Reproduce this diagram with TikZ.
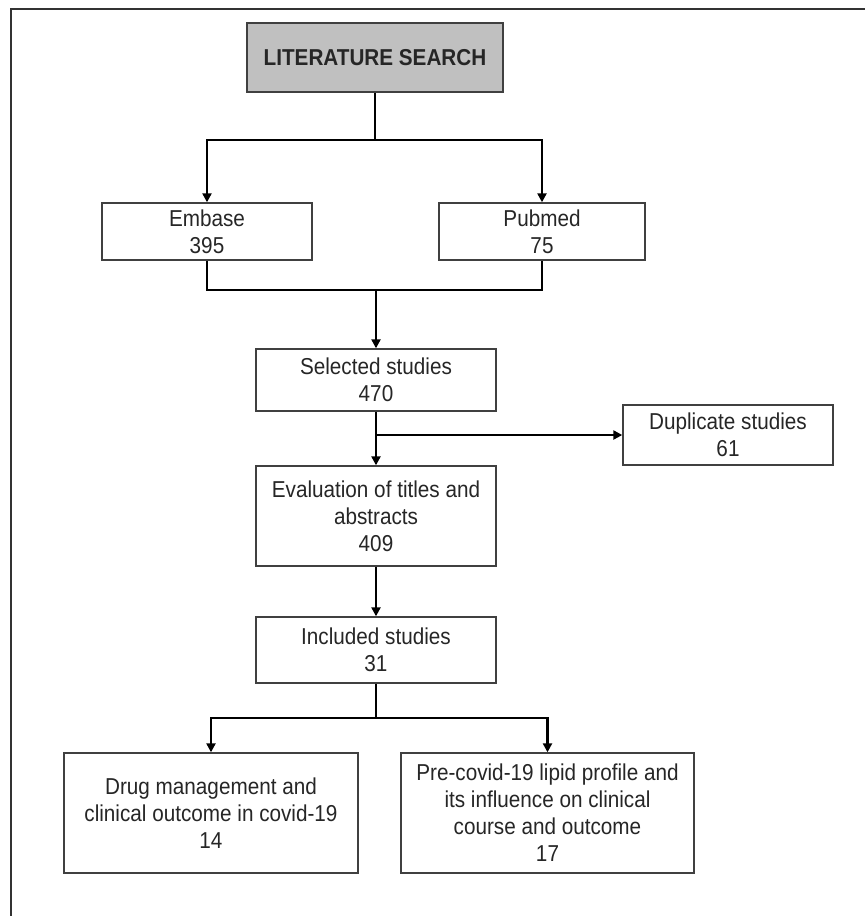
\documentclass[tikz,border=0pt]{standalone}
\usepackage{fontspec}
\setmainfont{Liberation Sans}[FakeStretch=0.9]
\usepackage{tikz}
\usetikzlibrary{arrows.meta}
\usepackage{xcolor}
\definecolor{boxgray}{HTML}{C0C0C0}
\definecolor{edgegray}{HTML}{404040}

\begin{document}
\begin{tikzpicture}[x=1pt, y=-1pt,
		box/.style = {draw=edgegray, line width=1.4pt, fill=white, align=center, inner sep=0pt, text=black!85, font=\fontsize{23}{27}\selectfont},
		conn/.style = {line width=2.4pt, black},
		arr/.style = {conn, -{Triangle[length=9pt, width=9pt]}}]
	\useasboundingbox (0,0) rectangle (865,916);
	\draw [line width=2pt, black!80] (11,916) -- (11,9) -- (865,9);

	\node [box, fill=boxgray, minimum width=256, minimum height=69, font=\fontsize{23}{27}\selectfont\bfseries] (lit) at (375,57.5) {LITERATURE SEARCH};

	\node [box, minimum width=210, minimum height=57] (embase) at (207,231.5) {Embase\\395};
	\node [box, minimum width=206, minimum height=57] (pubmed) at (542,231.5) {Pubmed\\75};

	\node [box, minimum width=240, minimum height=62] (selected) at (376,380) {Selected studies\\470};
	\node [box, minimum width=210, minimum height=60] (duplicate) at (728,435) {Duplicate studies\\61};

	\node [box, minimum width=240, minimum height=100] (eval) at (376,516) {Evaluation of titles and\\abstracts\\409};
	\node [box, minimum width=240, minimum height=66] (included) at (376,650) {Included studies\\31};

	\node [box, minimum width=294, minimum height=120] (drug) at (211,813) {Drug management and\\clinical outcome in covid-19\\14};
	\node [box, minimum width=293, minimum height=120] (lipid) at (547.5,813) {Pre-covid-19 lipid profile and\\its influence on clinical\\course and outcome\\17};

	\coordinate (split1) at (375,140);
	\coordinate (join) at (376,290);
	\coordinate (dupsplit) at (376,435);
	\coordinate (split2) at (376,718);

	\draw [conn] (lit) -- (split1);
	\draw [arr] (split1) -| (embase);
	\draw [arr] (split1) -| (pubmed);

	\draw [conn] (embase) |- (join) -| (pubmed);
	\draw [arr] (join) -- (selected);

	\draw [arr] (selected) -- (eval);
	\draw [arr] (dupsplit) -- (duplicate);

	\draw [arr] (eval) -- (included);

	\draw [conn] (included) -- (split2);
	\draw [arr] (split2) -| (drug);
	\draw [arr] (split2) -| (lipid);
\end{tikzpicture}
\end{document}
